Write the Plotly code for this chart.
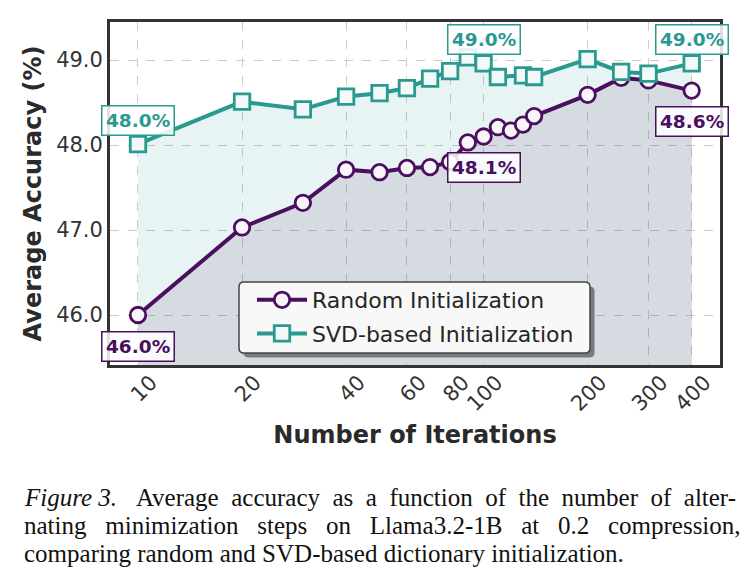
import numpy as np
import plotly.graph_objects as go

# ---------------- data ----------------
iters_random = [10, 20, 30, 40, 50, 60, 70, 80, 90, 100, 110, 120, 130, 140, 200, 250, 300, 400]
acc_random = [46.00, 47.03, 47.32, 47.71, 47.68, 47.73, 47.74, 47.80, 48.03, 48.10,
              48.21, 48.17, 48.24, 48.34, 48.59, 48.79, 48.76, 48.64]
iters_svd = [10, 20, 30, 40, 50, 60, 70, 80, 90, 100, 110, 130, 140, 200, 250, 300, 400]
acc_svd = [48.01, 48.51, 48.42, 48.57, 48.61, 48.67, 48.78, 48.87, 49.03, 48.96,
           48.80, 48.82, 48.80, 49.01, 48.86, 48.84, 48.96]
label_iters = [10, 100, 400]
x_ticks = [10, 20, 40, 60, 80, 100, 200, 300, 400]
y_ticks = [46.0, 47.0, 48.0, 49.0]

PURPLE = "#4a0f5e"
TEAL = "#2a998f"
Y_BOTTOM = 45.412
Y_TOP = 49.447

fig = go.Figure()

# fills
fig.add_trace(go.Scatter(x=iters_svd, y=acc_svd, mode="none", fill="tozeroy",
                         fillcolor="rgba(42,153,143,0.11)", showlegend=False, hoverinfo="skip"))
fig.add_trace(go.Scatter(x=iters_random, y=acc_random, mode="none", fill="tozeroy",
                         fillcolor="rgba(74,15,94,0.11)", showlegend=False, hoverinfo="skip"))

# lines
fig.add_trace(go.Scatter(
    x=iters_random, y=acc_random, mode="lines+markers", name="Random Initialization",
    line=dict(color=PURPLE, width=4), legendgroup="r",
    marker=dict(symbol="circle", size=15.5, color="#f8f5f9", line=dict(color=PURPLE, width=2.8)),
    legendrank=1))
fig.add_trace(go.Scatter(
    x=iters_svd, y=acc_svd, mode="lines+markers", name="SVD-based Initialization",
    line=dict(color=TEAL, width=4), legendgroup="s",
    marker=dict(symbol="square", size=15.5, color="#f3f9f9", line=dict(color=TEAL, width=2.8)),
    legendrank=2))

annotations = []
for it in label_iters:
    i = iters_svd.index(it)
    annotations.append(dict(
        x=np.log10(it), y=acc_svd[i], xref="x", yref="y", showarrow=False,
        text=f"<b>{acc_svd[i]:.1f}%</b>", yshift=24,
        font=dict(family="DejaVu Sans", size=18.5, color=TEAL),
        bgcolor="rgba(255,255,255,0.85)", bordercolor=TEAL, borderwidth=1.5, borderpad=3.5))
    j = iters_random.index(it)
    annotations.append(dict(
        x=np.log10(it), y=acc_random[j], xref="x", yref="y", showarrow=False,
        text=f"<b>{acc_random[j]:.1f}%</b>", yshift=-31,
        font=dict(family="DejaVu Sans", size=18.5, color=PURPLE),
        bgcolor="rgba(255,255,255,0.85)", bordercolor=PURPLE, borderwidth=1.5, borderpad=3.5))

# caption (pixel -> paper conversion for plot area x:110-720, y:22-365)
def px(xp):
    return (xp - 110) / 610.0

def py(yp):
    return (365 - yp) / 343.0

S1 = " \u2005"
S2 = " \u2002"
caption = [
    S1.join(["<i>Figure 3.</i>", "Average", "accuracy", "as", "a", "function", "of", "the",
             "number", "of", "alter-"]).replace("</i> \u2005", "</i>  \u2005"),
    S2.join(["nating", "minimization", "steps", "on", "Llama3.2-1B", "at", "0.2", "compression,"]),
    "comparing random and SVD-based dictionary initialization.",
]
for k, line in enumerate(caption):
    annotations.append(dict(
        x=px(22), y=py(497 + 28 * k), xref="paper", yref="paper", showarrow=False,
        xanchor="left", yanchor="middle", text=line,
        font=dict(family="Liberation Serif", size=25, color="#111111")))


def rounded_rect(x0, y0, x1, y1, r):
    # pixel coordinates -> paper path with rounded corners
    X0, X1 = px(x0), px(x1)
    Y0, Y1 = py(y1), py(y0)  # bottom, top in paper
    rx, ry = r / 610.0, r / 343.0
    return (f"M{X0 + rx},{Y1} L{X1 - rx},{Y1} Q{X1},{Y1} {X1},{Y1 - ry} "
            f"L{X1},{Y0 + ry} Q{X1},{Y0} {X1 - rx},{Y0} L{X0 + rx},{Y0} "
            f"Q{X0},{Y0} {X0},{Y0 + ry} L{X0},{Y1 - ry} Q{X0},{Y1} {X0 + rx},{Y1} Z")


shapes = [
    dict(type="path", xref="paper", yref="paper", path=rounded_rect(243.5, 286.5, 594.5, 357.5, 5),
         fillcolor="rgba(105,105,105,0.85)", line=dict(width=0), layer="above"),
    dict(type="path", xref="paper", yref="paper", path=rounded_rect(239, 282, 590, 353, 5),
         fillcolor="#f8f8f8", line=dict(color="#444444", width=1.5), layer="above"),
]

fig.update_layout(
    width=749, height=588,
    margin=dict(l=110, r=29, t=22, b=223),
    paper_bgcolor="white", plot_bgcolor="white",
    font=dict(family="DejaVu Sans", color="#333333"),
    annotations=annotations,
    shapes=shapes,
    legend=dict(x=px(252), y=py(279), xanchor="left", yanchor="top",
                font=dict(size=22, color="#262626"),
                bgcolor="rgba(0,0,0,0)", borderwidth=0,
                itemwidth=50, tracegroupgap=2),
    xaxis=dict(
        type="log", range=[0.919, 2.684],
        tickmode="array", tickvals=x_ticks, ticktext=[str(t) for t in x_ticks],
        tickangle=-45, tickfont=dict(size=21, color="#333333"),
        ticklabelshift=13, ticklabelstandoff=-6,
        showgrid=True, gridcolor="#cccccc", griddash="dash", gridwidth=1,
        showline=True, linecolor="#333333", linewidth=2.8, mirror=True,
        ticks="", zeroline=False,
        title=dict(text="<b>Number of Iterations</b>", font=dict(size=24, color="#2a2a2a"), standoff=12),
    ),
    yaxis=dict(
        range=[Y_BOTTOM, Y_TOP],
        tickmode="array", tickvals=y_ticks, ticktext=[f"{v:.1f}" for v in y_ticks],
        tickfont=dict(size=21, color="#333333"),
        showgrid=True, gridcolor="#cccccc", griddash="dash", gridwidth=1,
        showline=True, linecolor="#333333", linewidth=2.8, mirror=True,
        ticks="", zeroline=False,
        title=dict(text="<b>Average Accuracy (%)</b>", font=dict(size=24, color="#2a2a2a"), standoff=8),
    ),
)

fig.write_html("out.html")
